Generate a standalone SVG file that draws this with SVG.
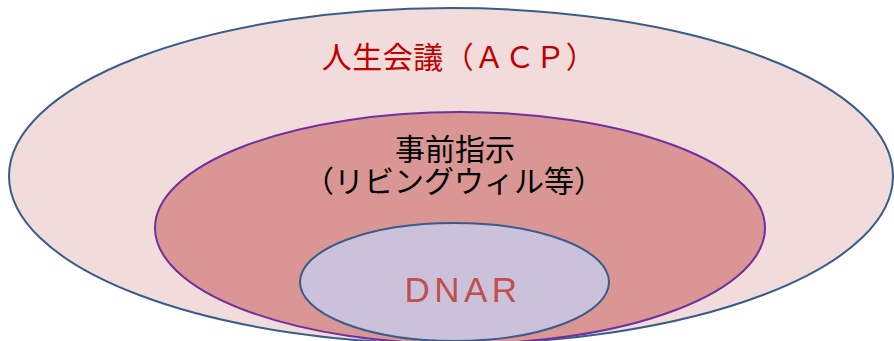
<svg xmlns="http://www.w3.org/2000/svg" width="894" height="341" viewBox="0 0 894 341">
<style>
.jp{font-family:"Noto Sans CJK JP","Noto Sans",sans-serif;font-size:30px;text-anchor:middle}
.e{stroke-width:2}
</style>
<rect width="894" height="341" fill="#ffffff"/>
<g id="acp">
<ellipse class="e" cx="451" cy="176" rx="442" ry="168" fill="#F2DCDB" stroke="#385D8A"/>
<text class="jp" x="459" y="68" fill="#C00000" font-size="31" letter-spacing="0.5">人生会議（ＡＣＰ）</text>
</g>
<g id="advance-directive">
<ellipse class="e" cx="460" cy="228" rx="305" ry="116" fill="#D99694" stroke="#7030A0"/>
<text class="jp" fill="#000000"><tspan x="455" y="160">事前指示</tspan><tspan x="454" y="192">（リビングウィル等）</tspan></text>
</g>
<g id="dnar">
<ellipse class="e" cx="454.5" cy="282" rx="154.5" ry="59" fill="#CCC1DA" stroke="#385D8A"/>
<text x="463" y="302" fill="#C0504D" font-family="Liberation Sans, Arial, sans-serif" font-size="35" letter-spacing="4.5" text-anchor="middle">DNAR</text>
</g>
<g id="connectors"/>
</svg>
